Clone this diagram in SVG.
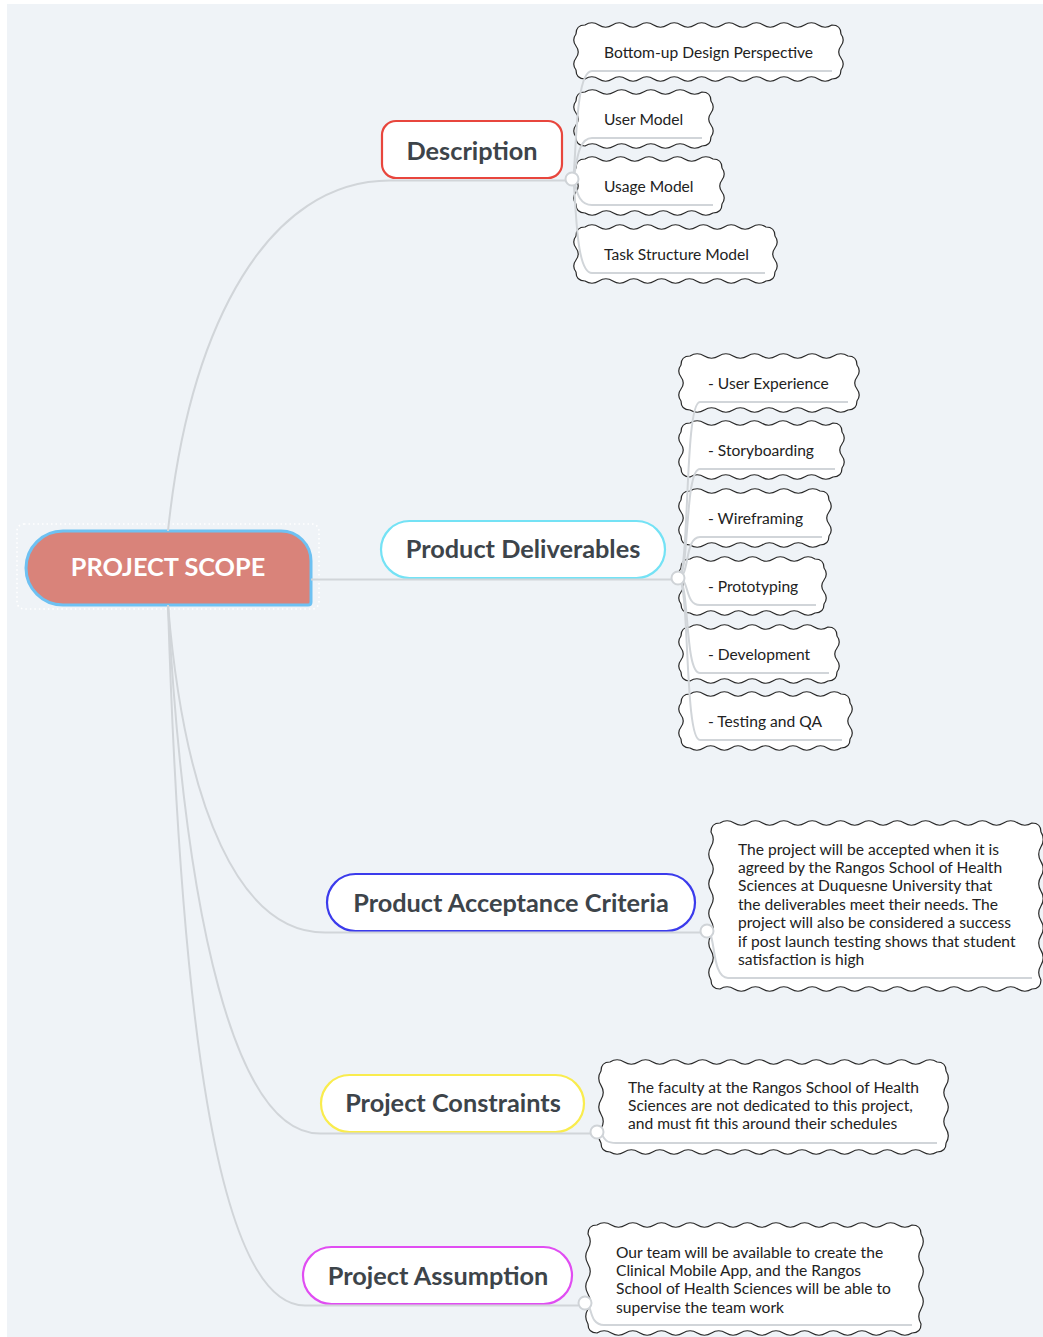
<svg xmlns="http://www.w3.org/2000/svg" width="1043" height="1337" viewBox="0 0 1043 1337">
  <style>
    .canvas{fill:#eff3f7}
    .cloud{fill:#fff;stroke:#2a2a2a;stroke-width:1.2;stroke-linejoin:round}
    .leaf{font-family:Lato,"Noto Sans",sans-serif;font-size:15.6px;fill:#222}
    .branch{fill:#fff;stroke-width:2.2}
    .btext{font-family:Lato,"Noto Sans",sans-serif;font-weight:bold;font-size:25.3px;fill:#3d444a;text-anchor:middle}
    .link{fill:none;stroke:#d1d5d9;stroke-width:2}
    .dot{fill:#fff;stroke:#cfd3d7;stroke-width:2}
  </style>

  <rect class="canvas" x="7" y="4" width="1036" height="1333"/>

  <!-- central topic -->
  <g id="root">
    <rect x="17" y="524" width="302" height="85" rx="7" fill="none" stroke="#fff" stroke-width="1.6" stroke-dasharray="1.5 3"/>
    <path d="M63,531 H281 A30,30 0 0 1 311,561 V602 Q311,605 308,605 H63 A37,37 0 0 1 63,531 Z" fill="#d9837a" stroke="#6ec1f2" stroke-width="3"/>
    <text x="168" y="576" font-family="Lato,'Noto Sans',sans-serif" font-weight="bold" font-size="25.3" fill="#fff" text-anchor="middle">PROJECT SCOPE</text>
  </g>

  <!-- main topics -->
  <g id="description">
    <rect class="branch" x="382" y="121" width="180" height="57" rx="14" stroke="#e8463d"/>
    <text class="btext" x="472" y="160">Description</text>
  </g>
  <g id="product-deliverables">
    <rect class="branch" x="381" y="521" width="284" height="57" rx="28.5" stroke="#74e2f5"/>
    <text class="btext" x="523" y="558">Product Deliverables</text>
  </g>
  <g id="acceptance-criteria">
    <rect class="branch" x="327" y="874" width="368" height="57" rx="28.5" stroke="#3b3bec"/>
    <text class="btext" x="511" y="912">Product Acceptance Criteria</text>
  </g>
  <g id="constraints">
    <rect class="branch" x="321" y="1075" width="263" height="57" rx="28.5" stroke="#f9ec4e"/>
    <text class="btext" x="453" y="1112">Project Constraints</text>
  </g>
  <g id="assumption">
    <rect class="branch" x="303" y="1247" width="269" height="57" rx="28.5" stroke="#e04df2"/>
    <text class="btext" x="438" y="1285">Project Assumption</text>
  </g>

  <!-- Description subtopics -->
  <g id="bottom-up">
    <path class="cloud" d="M585,25 q6.86,-4.5 13.72,0 t13.72,0 13.72,0 13.72,0 13.72,0 13.72,0 13.72,0 13.72,0 13.72,0 13.72,0 13.72,0 13.72,0 13.72,0 13.72,0 13.72,0 13.72,0 13.72,0 13.72,0 q9,0 9,9 q4.5,6 0,12 t0,12 0,12 q0,9 -9,9 q-6.86,4.5 -13.72,0 t-13.72,0 -13.72,0 -13.72,0 -13.72,0 -13.72,0 -13.72,0 -13.72,0 -13.72,0 -13.72,0 -13.72,0 -13.72,0 -13.72,0 -13.72,0 -13.72,0 -13.72,0 -13.72,0 -13.72,0 q-9,0 -9,-9 q-4.5,-6 0,-12 t0,-12 0,-12 q0,-9 9,-9z"/>
    <text class="leaf" x="604" y="58">Bottom-up Design Perspective</text>
  </g>
  <g id="user-model">
    <path class="cloud" d="M585,92 q7.31,-4.5 14.62,0 t14.62,0 14.62,0 14.62,0 14.62,0 14.62,0 14.62,0 14.62,0 q9,0 9,9 q4.5,6 0,12 t0,12 0,12 q0,9 -9,9 q-7.31,4.5 -14.62,0 t-14.62,0 -14.62,0 -14.62,0 -14.62,0 -14.62,0 -14.62,0 -14.62,0 q-9,0 -9,-9 q-4.5,-6 0,-12 t0,-12 0,-12 q0,-9 9,-9z"/>
    <text class="leaf" x="604" y="125">User Model</text>
  </g>
  <g id="usage-model">
    <path class="cloud" d="M585,159 q7.11,-4.5 14.22,0 t14.22,0 14.22,0 14.22,0 14.22,0 14.22,0 14.22,0 14.22,0 14.22,0 q9,0 9,9 q4.5,6 0,12 t0,12 0,12 q0,9 -9,9 q-7.11,4.5 -14.22,0 t-14.22,0 -14.22,0 -14.22,0 -14.22,0 -14.22,0 -14.22,0 -14.22,0 -14.22,0 q-9,0 -9,-9 q-4.5,-6 0,-12 t0,-12 0,-12 q0,-9 9,-9z"/>
    <text class="leaf" x="604" y="192">Usage Model</text>
  </g>
  <g id="task-structure">
    <path class="cloud" d="M585,227 q6.96,-4.5 13.92,0 t13.92,0 13.92,0 13.92,0 13.92,0 13.92,0 13.92,0 13.92,0 13.92,0 13.92,0 13.92,0 13.92,0 13.92,0 q9,0 9,9 q4.5,6 0,12 t0,12 0,12 q0,9 -9,9 q-6.96,4.5 -13.92,0 t-13.92,0 -13.92,0 -13.92,0 -13.92,0 -13.92,0 -13.92,0 -13.92,0 -13.92,0 -13.92,0 -13.92,0 -13.92,0 -13.92,0 q-9,0 -9,-9 q-4.5,-6 0,-12 t0,-12 0,-12 q0,-9 9,-9z"/>
    <text class="leaf" x="604" y="260">Task Structure Model</text>
  </g>

  <!-- Product Deliverables subtopics -->
  <g id="user-experience">
    <path class="cloud" d="M690,356 q7.18,-4.5 14.36,0 t14.36,0 14.36,0 14.36,0 14.36,0 14.36,0 14.36,0 14.36,0 14.36,0 14.36,0 14.36,0 q9,0 9,9 q4.5,6 0,12 t0,12 0,12 q0,9 -9,9 q-7.18,4.5 -14.36,0 t-14.36,0 -14.36,0 -14.36,0 -14.36,0 -14.36,0 -14.36,0 -14.36,0 -14.36,0 -14.36,0 -14.36,0 q-9,0 -9,-9 q-4.5,-6 0,-12 t0,-12 0,-12 q0,-9 9,-9z"/>
    <text class="leaf" x="708" y="389">- User Experience</text>
  </g>
  <g id="storyboarding">
    <path class="cloud" d="M690,423 q7.15,-4.5 14.3,0 t14.3,0 14.3,0 14.3,0 14.3,0 14.3,0 14.3,0 14.3,0 14.3,0 14.3,0 q9,0 9,9 q4.5,6 0,12 t0,12 0,12 q0,9 -9,9 q-7.15,4.5 -14.3,0 t-14.3,0 -14.3,0 -14.3,0 -14.3,0 -14.3,0 -14.3,0 -14.3,0 -14.3,0 -14.3,0 q-9,0 -9,-9 q-4.5,-6 0,-12 t0,-12 0,-12 q0,-9 9,-9z"/>
    <text class="leaf" x="708" y="456">- Storyboarding</text>
  </g>
  <g id="wireframing">
    <path class="cloud" d="M690,491 q7.22,-4.5 14.44,0 t14.44,0 14.44,0 14.44,0 14.44,0 14.44,0 14.44,0 14.44,0 14.44,0 q9,0 9,9 q4.5,6 0,12 t0,12 0,12 q0,9 -9,9 q-7.22,4.5 -14.44,0 t-14.44,0 -14.44,0 -14.44,0 -14.44,0 -14.44,0 -14.44,0 -14.44,0 -14.44,0 q-9,0 -9,-9 q-4.5,-6 0,-12 t0,-12 0,-12 q0,-9 9,-9z"/>
    <text class="leaf" x="708" y="524">- Wireframing</text>
  </g>
  <g id="prototyping">
    <path class="cloud" d="M690,559 q6.94,-4.5 13.89,0 t13.89,0 13.89,0 13.89,0 13.89,0 13.89,0 13.89,0 13.89,0 13.89,0 q9,0 9,9 q4.5,6 0,12 t0,12 0,12 q0,9 -9,9 q-6.94,4.5 -13.89,0 t-13.89,0 -13.89,0 -13.89,0 -13.89,0 -13.89,0 -13.89,0 -13.89,0 -13.89,0 q-9,0 -9,-9 q-4.5,-6 0,-12 t0,-12 0,-12 q0,-9 9,-9z"/>
    <text class="leaf" x="708" y="592">- Prototyping</text>
  </g>
  <g id="development">
    <path class="cloud" d="M690,627 q6.9,-4.5 13.8,0 t13.8,0 13.8,0 13.8,0 13.8,0 13.8,0 13.8,0 13.8,0 13.8,0 13.8,0 q9,0 9,9 q4.5,6 0,12 t0,12 0,12 q0,9 -9,9 q-6.9,4.5 -13.8,0 t-13.8,0 -13.8,0 -13.8,0 -13.8,0 -13.8,0 -13.8,0 -13.8,0 -13.8,0 -13.8,0 q-9,0 -9,-9 q-4.5,-6 0,-12 t0,-12 0,-12 q0,-9 9,-9z"/>
    <text class="leaf" x="708" y="660">- Development</text>
  </g>
  <g id="testing-qa">
    <path class="cloud" d="M690,694 q6.86,-4.5 13.73,0 t13.73,0 13.73,0 13.73,0 13.73,0 13.73,0 13.73,0 13.73,0 13.73,0 13.73,0 13.73,0 q9,0 9,9 q4.5,6 0,12 t0,12 0,12 q0,9 -9,9 q-6.86,4.5 -13.73,0 t-13.73,0 -13.73,0 -13.73,0 -13.73,0 -13.73,0 -13.73,0 -13.73,0 -13.73,0 -13.73,0 -13.73,0 q-9,0 -9,-9 q-4.5,-6 0,-12 t0,-12 0,-12 q0,-9 9,-9z"/>
    <text class="leaf" x="708" y="727">- Testing and QA</text>
  </g>

  <!-- acceptance note -->
  <g id="acceptance-note">
    <path class="cloud" d="M720,823 q7.09,-4.5 14.18,0 t14.18,0 14.18,0 14.18,0 14.18,0 14.18,0 14.18,0 14.18,0 14.18,0 14.18,0 14.18,0 14.18,0 14.18,0 14.18,0 14.18,0 14.18,0 14.18,0 14.18,0 14.18,0 14.18,0 14.18,0 14.18,0 q9,0 9,9 q4.5,7.4 0,14.8 t0,14.8 0,14.8 0,14.8 0,14.8 0,14.8 0,14.8 0,14.8 0,14.8 0,14.8 q0,9 -9,9 q-7.09,4.5 -14.18,0 t-14.18,0 -14.18,0 -14.18,0 -14.18,0 -14.18,0 -14.18,0 -14.18,0 -14.18,0 -14.18,0 -14.18,0 -14.18,0 -14.18,0 -14.18,0 -14.18,0 -14.18,0 -14.18,0 -14.18,0 -14.18,0 -14.18,0 -14.18,0 -14.18,0 q-9,0 -9,-9 q-4.5,-7.4 0,-14.8 t0,-14.8 0,-14.8 0,-14.8 0,-14.8 0,-14.8 0,-14.8 0,-14.8 0,-14.8 0,-14.8 q0,-9 9,-9z"/>
    <text class="leaf">
      <tspan x="738" y="854.5">The project will be accepted when it is</tspan>
      <tspan x="738" y="872.9">agreed by the Rangos School of Health</tspan>
      <tspan x="738" y="891.4">Sciences at Duquesne University that</tspan>
      <tspan x="738" y="909.8">the deliverables meet their needs. The</tspan>
      <tspan x="738" y="928.2">project will also be considered a success</tspan>
      <tspan x="738" y="946.7">if post launch testing shows that student</tspan>
      <tspan x="738" y="965.1">satisfaction is high</tspan>
    </text>
  </g>

  <!-- constraints note -->
  <g id="constraints-note">
    <path class="cloud" d="M610,1062 q7.11,-4.5 14.22,0 t14.22,0 14.22,0 14.22,0 14.22,0 14.22,0 14.22,0 14.22,0 14.22,0 14.22,0 14.22,0 14.22,0 14.22,0 14.22,0 14.22,0 14.22,0 14.22,0 14.22,0 14.22,0 14.22,0 14.22,0 14.22,0 14.22,0 q9,0 9,9 q4.5,7.2 0,14.4 t0,14.4 0,14.4 0,14.4 0,14.4 q0,9 -9,9 q-7.11,4.5 -14.22,0 t-14.22,0 -14.22,0 -14.22,0 -14.22,0 -14.22,0 -14.22,0 -14.22,0 -14.22,0 -14.22,0 -14.22,0 -14.22,0 -14.22,0 -14.22,0 -14.22,0 -14.22,0 -14.22,0 -14.22,0 -14.22,0 -14.22,0 -14.22,0 -14.22,0 -14.22,0 q-9,0 -9,-9 q-4.5,-7.2 0,-14.4 t0,-14.4 0,-14.4 0,-14.4 0,-14.4 q0,-9 9,-9z"/>
    <text class="leaf">
      <tspan x="628" y="1093">The faculty at the Rangos School of Health</tspan>
      <tspan x="628" y="1111">Sciences are not dedicated to this project,</tspan>
      <tspan x="628" y="1129">and must fit this around their schedules</tspan>
    </text>
  </g>

  <!-- assumption note -->
  <g id="assumption-note">
    <path class="cloud" d="M597,1225 q7.16,-4.5 14.32,0 t14.32,0 14.32,0 14.32,0 14.32,0 14.32,0 14.32,0 14.32,0 14.32,0 14.32,0 14.32,0 14.32,0 14.32,0 14.32,0 14.32,0 14.32,0 14.32,0 14.32,0 14.32,0 14.32,0 14.32,0 14.32,0 q9,0 9,9 q4.5,7.5 0,15 t0,15 0,15 0,15 0,15 0,15 q0,9 -9,9 q-7.16,4.5 -14.32,0 t-14.32,0 -14.32,0 -14.32,0 -14.32,0 -14.32,0 -14.32,0 -14.32,0 -14.32,0 -14.32,0 -14.32,0 -14.32,0 -14.32,0 -14.32,0 -14.32,0 -14.32,0 -14.32,0 -14.32,0 -14.32,0 -14.32,0 -14.32,0 -14.32,0 q-9,0 -9,-9 q-4.5,-7.5 0,-15 t0,-15 0,-15 0,-15 0,-15 0,-15 q0,-9 9,-9z"/>
    <text class="leaf">
      <tspan x="616" y="1257.5">Our team will be available to create the</tspan>
      <tspan x="616" y="1275.8">Clinical Mobile App, and the Rangos</tspan>
      <tspan x="616" y="1294.1">School of Health Sciences will be able to</tspan>
      <tspan x="616" y="1312.5">supervise the team work</tspan>
    </text>
  </g>

  <!-- connectors -->
  <g id="connectors">
    <path class="link" d="M168,531 C190,320 270,180.5 390,180.5 H566"/>
    <path class="link" d="M311,579.5 H672"/>
    <path class="link" d="M168,605 C185,810 240,932.5 325,932.5 H700"/>
    <path class="link" d="M168,605 C185,920 235,1133.5 320,1133.5 H590"/>
    <path class="link" d="M168,605 C180,1000 215,1305.5 305,1305.5 H578"/>

    <path class="link" d="M572,179 C577,179 573,71 592,71 H832"/>
    <path class="link" d="M572,179 C577,179 574,138 592,138 H702"/>
    <path class="link" d="M572,179 C577,179 574,205 592,205 H713"/>
    <path class="link" d="M572,179 C577,179 573,273 592,273 H765"/>

    <path class="link" d="M678,578 C690,578 684,402 700,402 H848"/>
    <path class="link" d="M678,578 C690,578 684,469 700,469 H835"/>
    <path class="link" d="M678,578 C690,578 684,537 700,537 H822"/>
    <path class="link" d="M678,578 C690,578 684,605 700,605 H816"/>
    <path class="link" d="M678,578 C690,578 684,673 700,673 H829"/>
    <path class="link" d="M678,578 C690,578 684,740 700,740 H842"/>

    <path class="link" d="M707,931 C716,931 711,978 728,978 H1032"/>
    <path class="link" d="M597,1132 C605,1132 600,1143 616,1143 H937"/>
    <path class="link" d="M585,1303 C593,1303 588,1325 604,1325 H912"/>

    <circle class="dot" cx="572" cy="179" r="6.5"/>
    <circle class="dot" cx="678" cy="578" r="6.5"/>
    <circle class="dot" cx="707" cy="931" r="6.5"/>
    <circle class="dot" cx="597" cy="1132" r="6.5"/>
    <circle class="dot" cx="585" cy="1303" r="6.5"/>
  </g>
</svg>
